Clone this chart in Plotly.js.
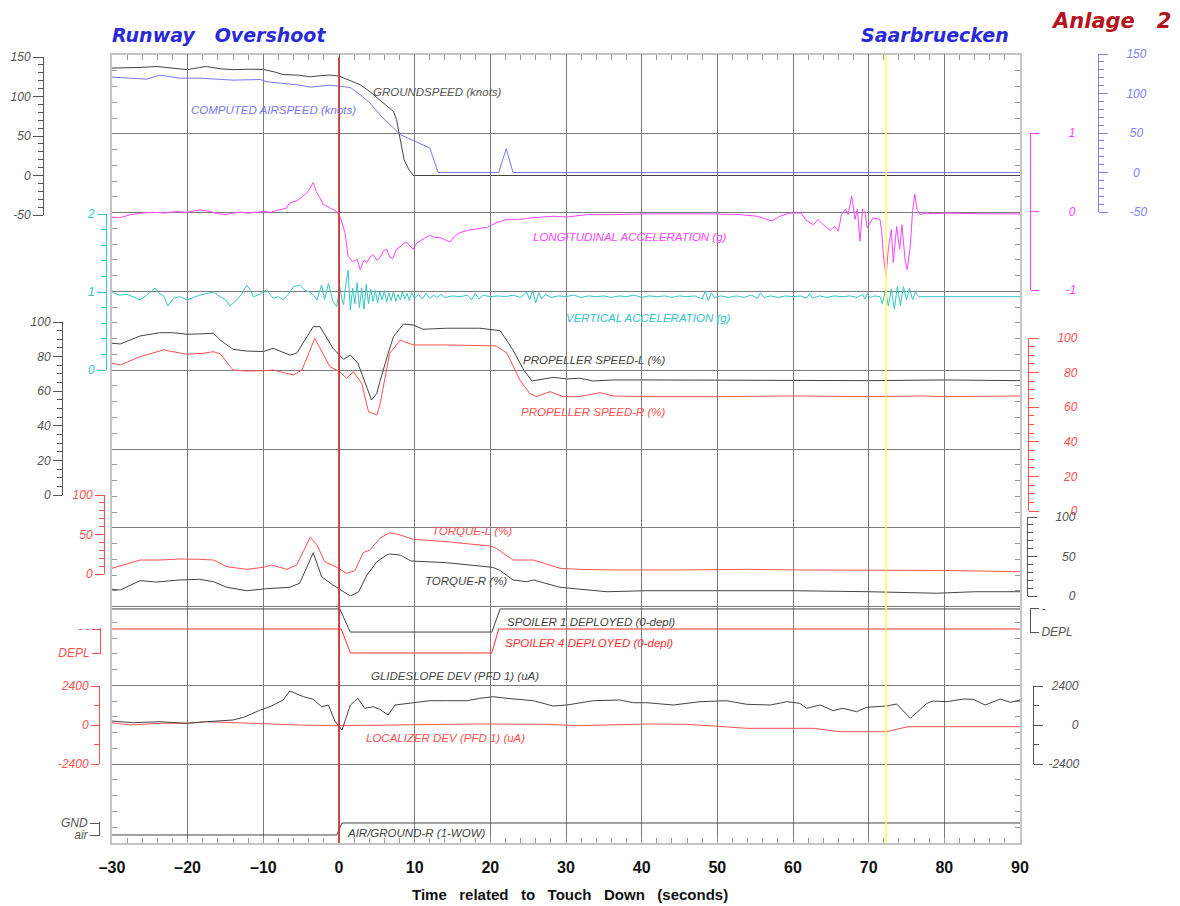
<!DOCTYPE html>
<html><head><meta charset="utf-8">
<script src="https://cdn.plot.ly/plotly-3.0.1.min.js"></script>
<style>html,body{margin:0;padding:0;background:#fff;}#chart{width:1180px;height:906px;}</style>
</head><body><div id="chart"></div>
<script>
// ---------------- DATA (time in s relative to touch down) ----------------
const groundSpeedT = [-30,-28,-26.3,-24.1,-22,-21,-20.1,-18.4,-17.5,-15.7,-14,-12,-10,-8.5,-7.4,-5.2,-3.8,-2.5,-1.2,0,1,2.8,4.1,5.5,7.2,7.6,8,8.6,9.2,9.8,90];
const groundSpeedV = [136,136,136.7,138,136,135,134,136.7,138,135,134,134.5,134.3,131,127.8,126.9,124.9,126.3,127.2,125.9,122.1,114.9,106,95,81,71,52,20,8,0,0];

const airSpeedT = [-30,-26.3,-25.4,-23.7,-21,-18.4,-14,-10.4,-9.5,-5.2,-3.8,-1.2,0,1.5,2.8,4.1,5.6,8.1,12.0,13.1,21.1,22.1,23.0,90];
const airSpeedV = [120.7,119.4,118.2,123.2,119.4,119.4,116.9,117.7,114.8,110.6,108.1,110.6,109.3,107.6,98.4,87.9,71.1,48,31,0,0,30,0,0];

const longAccT = [-30,-29,-27.5,-26,-24.5,-23,-21.5,-20,-19,-18.4,-17,-16,-15,-14,-13,-12,-11,-10,-9,-8,-7,-6.5,-5.5,-5,-4.2,-3.8,-3.4,-3.0,-2.6,-2.1,-1.2,-0.3,0.2,0.8,1.2,1.8,2.4,2.8,3.3,3.7,4.1,4.5,5.0,5.4,5.9,6.3,6.7,7.1,7.6,8.1,8.6,9.0,9.4,9.8,10.3,10.7,11.3,12.0,12.6,13.3,14.0,14.7,15.3,16.0,17.0,17.7,18.6,19.6,20.9,22.2,23.9,25.6,28.3,30.1,32.8,36.2,40.7,45.1,49.4,53,55.2,57.2,58.3,59.6,61.1,61.6,62.7,63.3,64.0,64.9,65.5,66.0,66.4,66.9,67.3,67.75,68.2,68.5,68.85,69.2,69.5,69.8,70.6,71.5,71.7,72.0,72.3,72.6,73.0,73.25,73.7,74.1,74.4,74.8,75.1,75.5,75.8,76.1,76.4,76.8,77.7,78.5,80,85,90];
const longAccV = [-0.07,-0.08,-0.04,-0.02,-0.01,-0.02,0.0,-0.01,0.01,0.02,0.0,-0.03,-0.04,-0.02,-0.01,-0.02,-0.01,0.0,-0.01,0.02,0.04,0.11,0.14,0.18,0.24,0.30,0.37,0.25,0.19,0.09,0.05,0.0,-0.08,-0.27,-0.57,-0.64,-0.61,-0.74,-0.62,-0.65,-0.58,-0.55,-0.62,-0.59,-0.50,-0.48,-0.58,-0.60,-0.48,-0.45,-0.40,-0.40,-0.44,-0.48,-0.40,-0.38,-0.34,-0.30,-0.33,-0.33,-0.36,-0.39,-0.31,-0.27,-0.24,-0.23,-0.22,-0.20,-0.14,-0.10,-0.10,-0.08,-0.06,-0.07,-0.04,-0.04,-0.03,-0.03,-0.03,-0.04,-0.06,-0.12,-0.06,-0.02,-0.02,-0.10,-0.17,-0.10,-0.17,-0.24,-0.19,-0.25,-0.04,0.03,-0.04,0.20,-0.10,0.03,-0.38,0.03,0.0,-0.21,-0.08,-0.10,-0.23,-0.61,-0.82,-0.48,-0.23,-0.65,-0.19,-0.48,-0.17,-0.61,-0.74,-0.44,0.0,0.22,0.03,-0.04,-0.02,-0.03,-0.02,-0.03,-0.03];

const vertAccT = [
-30,-29,-28,-27.2,-26.3,-25.4,-24.3,-23.7,-23.2,-22.6,
-21.9,-21.0,-20.1,-19.2,-18.4,-17.5,-16.6,-15.7,-15,-14.4,
-13.5,-12.8,-12.2,-11.7,-11.3,-10.5,-9.6,-8.7,-8,-7.4,
-6.7,-6.0,-5.2,-4.5,-3.8,-3.3,-2.9,-2.3,-1.9,-1.4,
-0.8,-0.3,0.1,0.4,0.6,0.9,1.2,1.5,1.8,2.1,
2.4,2.7,3.0,3.3,3.6,3.9,4.2,4.5,4.8,5.1,
5.4,5.7,6.0,6.3,6.6,6.9,7.2,7.5,7.8,8.1,
8.4,8.7,9.0,9.3,9.6,10.0,10.5,11,11.5,12,
12.5,13,13.5,14,15,16,17,17.5,18,18.5,
19,20,21,22,23,24,24.8,25.2,25.6,26.0,
26.4,26.8,27.3,28,29,30,31,32,33,34,
35,36,37,38,39,40,41,42,43,44,
45,46,47,48,48.4,48.8,49.2,49.6,50.5,51.5,
52.5,53.5,54.5,55.3,55.7,56.2,57,58,59,60,
61,61.8,62.2,62.6,63.5,64.5,65.5,66.5,67.5,68.5,
69.2,69.5,69.8,70.2,70.8,71.5,71.8,72.2,72.6,73.0,
73.4,73.8,74.2,74.6,75.0,75.4,75.8,76.2,76.6,77,
90];
const vertAccV = [
1.00,0.96,0.97,0.94,0.90,0.96,1.05,0.98,0.95,0.82,
0.92,0.94,0.90,0.93,0.96,0.98,1.00,0.94,0.90,0.82,
0.90,0.98,1.09,1.02,0.94,0.97,1.03,0.92,0.94,0.90,
0.97,1.07,1.09,1.02,1.00,0.95,0.90,1.09,0.90,1.11,
0.88,0.81,1.07,0.90,0.84,1.10,1.28,0.77,1.05,0.85,
1.12,0.80,1.05,0.78,1.10,0.85,1.04,0.88,1.02,0.86,
1.00,0.90,1.02,0.87,0.99,0.89,1.01,0.88,0.97,0.90,
1.00,0.91,0.98,0.89,0.99,0.92,0.97,0.91,0.98,0.92,
0.96,0.93,0.97,0.93,0.95,0.94,0.96,0.90,0.98,0.91,
0.96,0.94,0.95,0.94,0.96,0.93,1.00,0.90,1.02,0.86,
0.99,0.91,0.97,0.93,0.95,0.94,0.96,0.93,0.95,0.94,
0.95,0.93,0.95,0.94,0.96,0.93,0.95,0.94,0.95,0.93,
0.95,0.94,0.95,0.91,1.01,0.89,0.99,0.93,0.95,0.93,
0.95,0.93,0.96,0.92,0.99,0.93,0.95,0.93,0.95,0.94,
0.95,0.92,0.98,0.92,0.95,0.93,0.95,0.94,0.95,0.93,
0.97,0.91,0.98,0.93,0.95,0.94,0.85,1.02,0.82,1.04,
0.78,1.07,0.83,1.07,0.90,1.05,0.90,1.00,0.94,0.94,
0.94];

const propLT = [-30,-28.9,-26.3,-23.7,-21.9,-20.1,-18.4,-16.6,-15.7,-14.0,-12.2,-10.0,-8.7,-6.5,-5.6,-3.4,-2.5,-0.8,0.6,1.5,2.5,4.3,5.0,5.4,6.5,7.2,8.5,9.8,11.1,14.2,18.6,21.3,23.0,24.4,25.5,28.3,30.1,31.8,33.6,36.2,40.7,50,60,70,80,90];
const propLV = [87.7,87.3,91.9,93.8,93.8,92.9,93.1,93.5,89.6,84.2,83.2,82.9,84.8,80.9,81.9,97.3,97.3,84.8,78.4,80.9,76.1,54.9,58.8,65.5,81.9,91.5,98.8,98.3,95.8,96.4,96.4,95.0,83.8,72.3,65.9,68.0,67.1,67.5,65.9,66.5,66.5,66.3,66.5,66.1,66.5,66.1];

const propRT = [-30,-28.9,-26.3,-23.2,-20.1,-17.9,-16.6,-15.7,-14.0,-12.2,-10.0,-8.7,-6.0,-4.9,-3.2,-1.2,0.1,1.0,1.9,3.0,3.9,5.0,5.4,6.7,8.1,9.8,14.2,20.8,22.2,23.9,25.2,26.1,27.9,29.6,31.8,34.5,36.2,40.7,50,60,70,77,80,90];
const propRV = [85.4,84.4,89.2,93.1,90.6,91.2,92.1,90.8,81.5,80.9,81.1,81.5,78.6,81.5,99.8,83.4,80.5,76.7,80.5,73.8,57.4,55.5,61.3,91.2,98.8,96.0,96.0,95.4,91.2,75.7,68.0,66.1,69.0,66.1,66.1,68.4,66.5,66.1,66.1,66.5,66.1,66.5,66.1,66.5];

const torqueLT = [-30,-26.3,-23.7,-21.0,-18.4,-16.6,-14.8,-12.2,-10.0,-8.9,-6.9,-5.6,-3.8,-2.9,-1.9,-0.3,1.0,2.1,3.2,4.1,5.4,6.7,8.1,9.8,14.2,20.0,20.8,23.0,25.7,29.2,31.8,36.2,45,53.9,60.9,70,80,90];
const torqueLV = [7.2,17.7,17.7,19.0,18.6,17.7,9.2,5.9,8.5,11.4,5.9,11.4,46.5,36.7,15.6,8.5,0.9,4.2,27.0,30.4,45.2,52.3,49.4,43.9,40.9,35.4,32.5,17.7,17.7,7.2,5.9,5.1,5.1,5.9,5.1,5.1,4.5,2.9];

const torqueRT = [-30,-28.9,-26.3,-24.1,-21.0,-18.4,-16.6,-14.8,-12.2,-9.6,-6.5,-5.2,-3.4,-2.3,-0.8,1.5,2.6,3.7,5.0,6.3,6.7,8.1,9.5,14.2,20.3,21.2,23.0,24.8,25.7,29.2,35.4,40.7,50,60,70,79,84,90];
const torqueRV = [8.5,7.6,19.4,17.7,20.3,21.1,18.1,11.0,6.7,9.2,11.0,16.1,54.8,24.4,13.9,0.0,5.4,26.6,43.4,51.9,53.2,51.9,44.3,42.2,36.3,32.9,20.3,18.1,20.3,11.0,5.4,6.7,6.7,6.7,5.4,3.5,5.4,5.4];

const spoiler1T = [-30,0.1,1.5,20.2,21.3,90];
const spoiler1V = [1,1,0,0,1,1];
const spoiler4T = [-30,0.3,1.5,20.2,21.1,90];
const spoiler4V = [1,1,0,0,1,1];

const glideT = [-30,-28.9,-27.2,-23.7,-20.1,-17.5,-14,-12.6,-10.4,-9.1,-7.4,-6.5,-4.7,-3.4,-2.3,-1.4,-0.5,-0.1,0.4,1.5,2.5,3.4,4.5,5.4,6.5,7.4,9.8,12.0,14.2,16.9,18.6,20.4,22.2,25.7,28.3,30.1,33.6,37.1,38.9,40.7,44.2,47.7,51.2,53.9,57.0,59.2,60.9,61.8,63.6,65.3,66.6,68.4,69.7,72.4,73.7,75.5,77.7,78.5,80.3,82.5,83.8,85.4,87.4,88.7,90];
const glideV = [246,203,141,203,105,203,308,474,923,1125,1538,2091,1740,1581,1125,1230,203,0,-308,1230,1642,1027,1125,966,615,1230,1371,1494,1494,1494,1642,1740,1642,1494,1169,1230,1494,1538,1371,1371,1230,1433,1494,1273,1230,1433,1335,1027,1230,880,1027,818,1089,1169,1292,412,1335,1476,1433,1599,1581,1230,1599,1396,1538];

const locT = [-30,-27.6,-23.7,-20.1,-17.5,-14,-9.6,-5.2,-0.8,8.1,10,18.6,27.4,31.8,40.7,45.9,49.5,53.9,60.9,62.7,66.2,71.5,72.4,73.7,75.2,90];
const locV = [141,0,105,105,203,141,62,0,-43,0,0,62,43,-43,62,43,-62,-203,-203,-203,-412,-449,-412,-264,-105,-105];

const airGndT = [-30,-0.3,0.4,90];
const airGndV = [0,0,1,1];

const eventTimes = [0, 72.3];           // touch down, yellow marker
const xTickVals = [-30,-20,-10,0,10,20,30,40,50,60,70,80,90];

// ---------------- LAYOUT HELPERS ----------------
const W = 1180, H = 906;
const fx = p => p / W, fy = p => 1 - p / H;
const NB = '\u00a0';
const pad = n => NB.repeat(n);

const GRAY = '#555555', BLUE = '#8080ff', MAG = '#ff44ff', CYAN = '#33c6c6', RED = '#ff5050', SRED = '#ff3030';
const LBL = 'Liberation Sans';
const TTL = 'DejaVu Sans';

function yAx(o) {
  const c = o.color;
  const ax = {
    anchor: 'free', showgrid: false, zeroline: false, showline: true, linecolor: c, linewidth: 1,
    ticks: 'outside', ticklen: o.ticklen || 9, tickwidth: 1, tickcolor: c, fixedrange: true,
    tickmode: 'array', tickvals: o.tickvals, ticktext: o.ticktext,
    tickfont: {family: LBL, size: 12, color: c, style: 'italic'},
    domain: o.domain, range: o.range, position: o.position, side: o.side,
    ticklabelstandoff: o.standoff || 0
  };
  if (o.minor) ax.minor = {tickmode: 'linear', tick0: o.range[0], dtick: o.minor, ticks: 'outside', ticklen: 5, tickcolor: c, tickwidth: 1, showgrid: false};
  return ax;
}

function tr(x, y, axis, color, w) {
  return {x: x, y: y, xaxis: 'x', yaxis: axis, type: 'scatter', mode: 'lines',
          line: {color: color, width: w || 1}, hoverinfo: 'skip', showlegend: false};
}

const traces = [
  {x: [], y: [], xaxis: 'x', yaxis: 'y', type: 'scatter', mode: 'lines', showlegend: false},
  tr(groundSpeedT, groundSpeedV, 'y2', '#444444'),
  tr(airSpeedT, airSpeedV, 'y3', '#7777f0'),
  tr(longAccT, longAccV, 'y4', MAG),
  tr(vertAccT, vertAccV, 'y5', CYAN),
  tr(propLT, propLV, 'y6', '#444444'),
  tr(propRT, propRV, 'y7', RED),
  tr(torqueLT, torqueLV, 'y8', RED),
  tr(torqueRT, torqueRV, 'y9', '#444444'),
  tr(spoiler4T, spoiler4V, 'y10', SRED),
  tr(spoiler1T, spoiler1V, 'y11', '#444444'),
  tr(locT, locV, 'y12', RED),
  tr(glideT, glideV, 'y13', '#444444'),
  tr(airGndT, airGndV, 'y14', '#444444')
];

const labelSpecs = [
  ['GROUNDSPEED (knots)', 372, 91.5, '#555555'],
  ['COMPUTED AIRSPEED (knots)', 190, 110, '#7777f0'],
  ['LONGITUDINAL ACCELERATION (g)', 532, 237, MAG],
  ['VERTICAL ACCELERATION (g)', 565, 318, CYAN],
  ['PROPELLER SPEED-L (%)', 522, 359.5, '#444444'],
  ['PROPELLER SPEED-R (%)', 520, 411.5, RED],
  ['TORQUE-L (%)', 431, 531, RED],
  ['TORQUE-R (%)', 424, 580.5, '#444444'],
  ['SPOILER 1 DEPLOYED (0-depl)', 506, 621.5, '#444444'],
  ['SPOILER 4 DEPLOYED (0-depl)', 504, 642.5, SRED],
  ['GLIDESLOPE DEV (PFD 1) (uA)', 370, 675.5, '#444444'],
  ['LOCALIZER DEV (PFD 1) (uA)', 365, 738, RED],
  ['AIR/GROUND-R (1-WOW)', 346, 833, '#444444']
];

const annotations = labelSpecs.map(s => ({
  xref: 'paper', yref: 'paper', x: fx(s[1]), y: fy(s[2]), xanchor: 'left', yanchor: 'middle',
  text: s[0], showarrow: false, borderpad: 0,
  font: {family: LBL, size: 11.5, color: s[3], style: 'italic'}
}));
annotations.push(
  {xref: 'paper', yref: 'paper', x: fx(1011), y: fy(35), xanchor: 'right', yanchor: 'middle', showarrow: false,
   text: 'Saarbruecken', font: {family: TTL, size: 19, color: '#2a2ad8', style: 'italic', weight: 'bold'}},
  {xref: 'paper', yref: 'paper', x: fx(1049), y: fy(21), xanchor: 'left', yanchor: 'middle', showarrow: false,
   text: 'Anlage' + pad(3) + '2', font: {family: TTL, size: 21, color: '#b41420', style: 'italic', weight: 'bold'}},
  {xref: 'paper', yref: 'paper', x: fx(570), y: fy(894), xanchor: 'center', yanchor: 'middle', showarrow: false,
   text: ['Time','related','to','Touch','Down','(seconds)'].join(pad(3)),
   font: {family: 'Liberation Sans', size: 15, color: '#111111', weight: 'bold'}}
);

const shapes = eventTimes.map((t, i) => ({
  type: 'line', xref: 'x', yref: 'paper', x0: t, x1: t,
  y0: fy(843), y1: fy(i === 0 ? 57 : 55), layer: 'above',
  line: {color: i === 0 ? '#d03a3a' : '#ffff55', width: i === 0 ? 1.8 : 1.5}
}));

const layout = {
  width: W, height: H, margin: {l: 0, r: 0, t: 0, b: 0},
  paper_bgcolor: '#ffffff', plot_bgcolor: 'rgba(0,0,0,0)',
  showlegend: false, hovermode: false,
  title: {text: 'Runway' + pad(3) + 'Overshoot', x: fx(112), xanchor: 'left', xref: 'paper',
          y: fy(35), yanchor: 'middle', yref: 'paper',
          font: {family: TTL, size: 19, color: '#2a2ad8', style: 'italic', weight: 'bold'}},
  xaxis: {
    domain: [fx(112), fx(1020)], range: [-30, 90], anchor: 'y', fixedrange: true,
    tickmode: 'array', tickvals: xTickVals, ticktext: xTickVals.map(v => v < 0 ? '\u2013' + Math.abs(v) : String(v)),
    showgrid: true, gridcolor: '#7c7c7c', gridwidth: 1, zeroline: false,
    showline: true, linecolor: '#c4c4c4', linewidth: 2, mirror: 'ticks',
    ticks: 'inside', ticklen: 5, tickcolor: '#999999',
    minor: {tickmode: 'linear', tick0: 0, dtick: 2, ticks: 'inside', ticklen: 5, tickcolor: '#999999', showgrid: false},
    tickfont: {family: 'Liberation Sans', size: 16, color: '#111111', weight: 'bold'},
    ticklabelstandoff: 9
  },
  yaxis: {
    domain: [fy(843), fy(55)], range: [0, 10], anchor: 'x', fixedrange: true,
    dtick: 1, tick0: 0, showgrid: true, gridcolor: '#7c7c7c', gridwidth: 1, zeroline: false,
    showline: true, linecolor: '#c4c4c4', linewidth: 2, mirror: 'ticks',
    ticks: 'inside', ticklen: 0, showticklabels: false,
    minor: {dtick: 0.2, tick0: 0, ticks: 'inside', ticklen: 5, tickcolor: '#999999', showgrid: false}
  },
  yaxis2: yAx({color: GRAY, domain: [fy(215), fy(57)], range: [-50, 150], position: fx(43), side: 'left',
    tickvals: [-50,0,50,100,150], ticktext: ['-50','0','50','100','150'], minor: 10, ticklen: 10}),
  yaxis3: yAx({color: BLUE, domain: [fy(212), fy(54)], range: [-50, 150], position: fx(1098), side: 'right',
    tickvals: [-50,0,50,100,150], ticktext: [pad(1)+'-50', pad(2)+'0', pad(1)+'50', '100', '150'], minor: 10, standoff: 16}),
  yaxis4: yAx({color: MAG, domain: [fy(290), fy(133)], range: [-1, 1], position: fx(1030), side: 'right',
    tickvals: [-1,0,1], ticktext: ['-1', pad(1)+'0', pad(1)+'1'], ticklen: 8, standoff: 24}),
  yaxis5: yAx({color: CYAN, domain: [fy(370), fy(214)], range: [0, 2], position: fx(106), side: 'left',
    tickvals: [0,1,2], ticktext: ['0','1','2'], minor: 0.2}),
  yaxis6: yAx({color: GRAY, domain: [fy(495), fy(322)], range: [0, 100], position: fx(62), side: 'left',
    tickvals: [0,20,40,60,80,100], ticktext: ['0','20','40','60','80','100'], minor: 5}),
  yaxis7: yAx({color: RED, domain: [fy(511), fy(338)], range: [0, 100], position: fx(1028), side: 'right',
    tickvals: [0,20,40,60,80,100], ticktext: [pad(4)+'0', pad(2)+'20', pad(2)+'40', pad(2)+'60', pad(2)+'80', '100'], minor: 5, ticklen: 10, standoff: 16}),
  yaxis8: yAx({color: RED, domain: [fy(574), fy(495)], range: [0, 100], position: fx(104), side: 'left',
    tickvals: [0,50,100], ticktext: ['0','50','100'], minor: 10}),
  yaxis9: yAx({color: GRAY, domain: [fy(596), fy(517)], range: [0, 100], position: fx(1027), side: 'right',
    tickvals: [0,50,100], ticktext: [pad(4)+'0', pad(2)+'50', '100'], minor: 10, standoff: 16}),
  yaxis10: yAx({color: RED, domain: [fy(654.2), fy(627.8)], range: [-0.05, 1.05], position: fx(100), side: 'left',
    tickvals: [0,1], ticktext: ['DEPL','- -'], ticklen: 8}),
  yaxis11: yAx({color: GRAY, domain: [fy(633.2), fy(607.8)], range: [-0.05, 1.05], position: fx(1030), side: 'right',
    tickvals: [0,1], ticktext: ['DEPL','-'], ticklen: 8}),
  yaxis12: yAx({color: RED, domain: [fy(764), fy(686)], range: [-2400, 2400], position: fx(99), side: 'left',
    tickvals: [-2400,0,2400], ticktext: ['-2400','0','2400'], minor: 1200, ticklen: 8}),
  yaxis13: yAx({color: GRAY, domain: [fy(764), fy(686)], range: [-2400, 2400], position: fx(1033), side: 'right',
    tickvals: [-2400,0,2400], ticktext: ['-2400', pad(7)+'0', pad(1)+'2400'], minor: 1200, standoff: 3}),
  yaxis14: yAx({color: GRAY, domain: [fy(836.2), fy(821.8)], range: [-0.1, 1.1], position: fx(99), side: 'left',
    tickvals: [0,1], ticktext: ['air','GND']}),
  annotations: annotations,
  shapes: shapes
};

Plotly.newPlot('chart', traces, layout, {staticPlot: true, displayModeBar: false});
</script></body></html>
